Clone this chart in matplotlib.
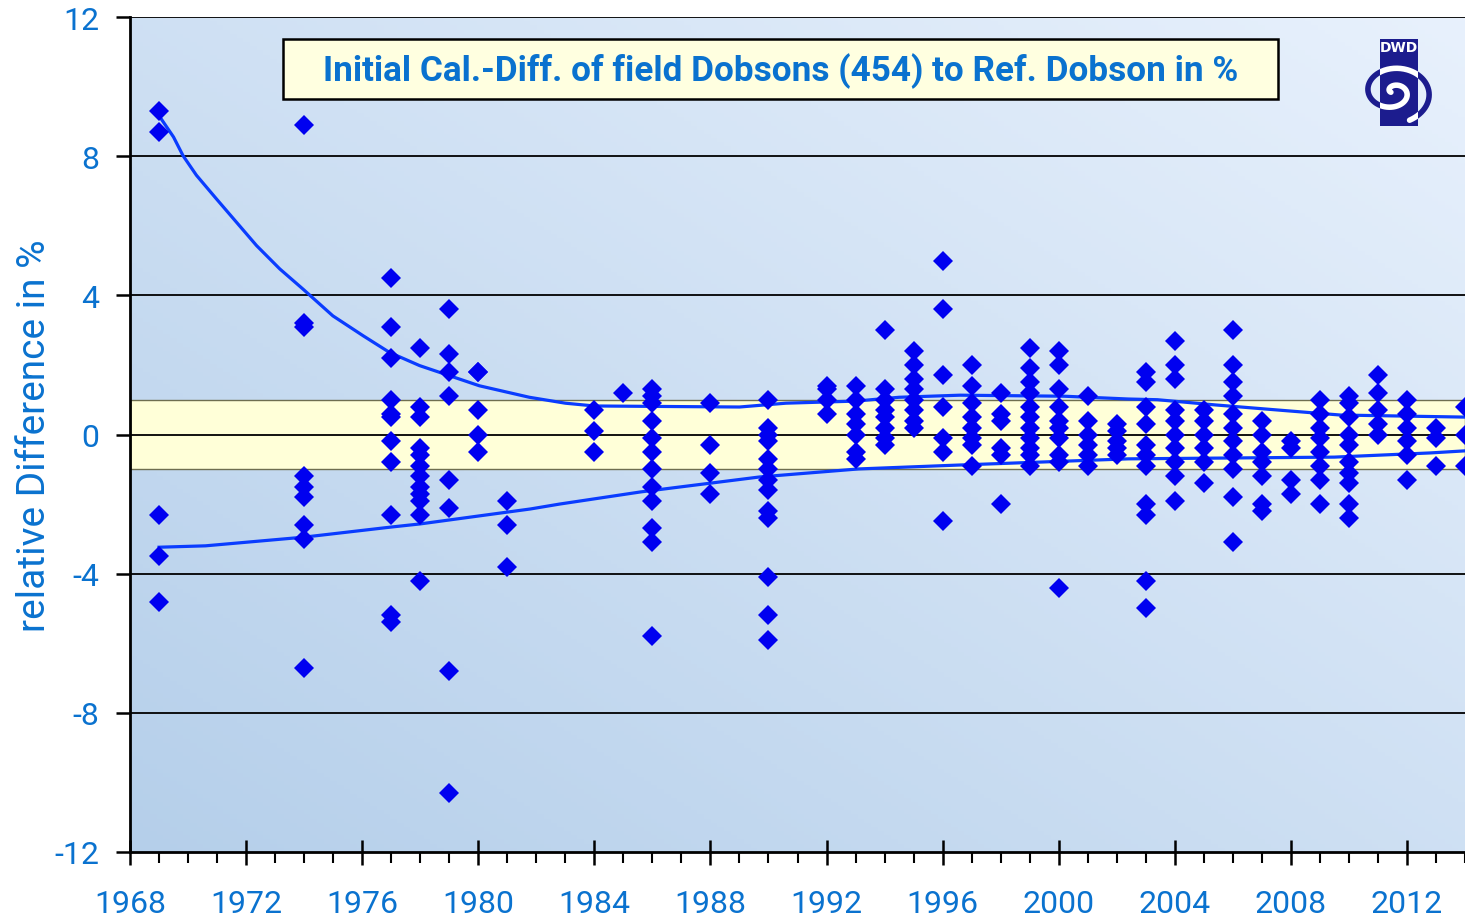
import numpy as np
import matplotlib
matplotlib.use("Agg")
from matplotlib import pyplot as plt
from matplotlib.patches import Rectangle

plt.rcParams["axes.unicode_minus"] = False

# calibration differences per campaign year (in %)
years = [1969, 1974, 1977, 1978, 1979, 1980, 1981, 1984, 1985, 1986, 1988, 1990,
         1992, 1993, 1994, 1995, 1996, 1997, 1998, 1999, 2000, 2001, 2002, 2003,
         2004, 2005, 2006, 2007, 2008, 2009, 2010, 2011, 2012, 2013, 2014]
diffs = [
    [9.3, 8.7, -2.3, -3.5, -4.8],
    [8.9, 3.2, 3.1, -1.2, -1.5, -1.8, -2.6, -3.0, -6.7],
    [4.5, 3.1, 2.2, 1.0, 0.6, 0.5, -0.2, -0.8, -2.3, -5.2, -5.4],
    [2.5, 0.8, 0.5, -0.4, -0.6, -0.9, -1.2, -1.5, -1.7, -1.9, -2.3, -4.2],
    [3.6, 2.3, 1.8, 1.1, -1.3, -2.1, -6.8, -10.3],
    [1.8, 1.8, 0.7, 0.0, -0.5],
    [-1.9, -2.6, -3.8],
    [0.7, 0.1, -0.5],
    [1.2],
    [1.3, 1.1, 0.9, 0.4, -0.1, -0.5, -1.0, -1.5, -1.9, -2.7, -3.1, -5.8],
    [0.9, -0.3, -1.1, -1.7],
    [1.0, 0.2, 0.0, -0.2, -0.7, -1.0, -1.3, -1.6, -2.2, -2.4, -4.1, -5.2, -5.9],
    [1.4, 1.3, 1.0, 0.6],
    [1.4, 1.0, 0.6, 0.3, 0.0, -0.5, -0.7],
    [3.0, 1.3, 1.0, 0.7, 0.5, 0.2, -0.1, -0.3],
    [2.4, 2.0, 1.6, 1.3, 1.0, 0.7, 0.4, 0.2],
    [5.0, 3.6, 1.7, 0.8, -0.1, -0.5, -2.5],
    [2.0, 1.4, 0.9, 0.5, 0.2, -0.1, -0.3, -0.9],
    [1.2, 0.6, 0.4, -0.4, -0.6, -2.0],
    [2.5, 1.9, 1.5, 1.2, 0.8, 0.5, 0.2, -0.1, -0.4, -0.6, -0.9],
    [2.4, 2.0, 1.3, 0.8, 0.4, 0.2, -0.1, -0.6, -0.8, -4.4],
    [1.1, 0.4, 0.0, -0.3, -0.6, -0.9],
    [0.3, 0.1, -0.2, -0.4, -0.6],
    [1.8, 1.5, 0.8, 0.3, -0.3, -0.6, -0.9, -2.0, -2.3, -4.2, -5.0],
    [2.7, 2.0, 1.6, 0.7, 0.4, 0.0, -0.4, -0.8, -1.2, -1.9],
    [0.7, 0.4, 0.0, -0.4, -0.8, -1.4],
    [3.0, 2.0, 1.5, 1.1, 0.6, 0.2, -0.2, -0.6, -1.0, -1.8, -3.1],
    [0.4, 0.0, -0.5, -0.8, -1.2, -2.0, -2.2],
    [-0.2, -0.4, -1.3, -1.7],
    [1.0, 0.6, 0.2, -0.1, -0.5, -0.9, -1.3, -2.0],
    [1.1, 0.9, 0.5, 0.0, -0.3, -0.8, -1.1, -1.4, -2.0, -2.4],
    [1.7, 1.2, 0.7, 0.3, 0.0],
    [1.0, 0.6, 0.2, -0.2, -0.6, -1.3],
    [0.2, -0.1, -0.9],
    [0.8, 0.0, -0.9],
]

# envelope curves
upper_x = [1968.97, 1969.5, 1969.83, 1970.29, 1970.98, 1971.67, 1972.36, 1973.16,
           1973.96, 1974.99, 1976.03, 1976.94, 1977.98, 1979.01, 1980.04, 1981.76,
           1983.0, 1984.0, 1989.0, 1990.6, 1993.0, 1994.5, 1996.6, 2000.2, 2002.4,
           2003.4, 2005.4, 2007.9, 2009.7, 2014.0]
upper_y = [9.2, 8.55, 8.01, 7.45, 6.77, 6.10, 5.43, 4.76, 4.18, 3.41, 2.84, 2.36,
           1.98, 1.69, 1.40, 1.07, 0.9, 0.82, 0.79, 0.9, 0.96, 1.07, 1.13, 1.1,
           1.02, 1.0, 0.85, 0.68, 0.56, 0.5]
lower_x = [1969.0, 1970.6, 1974.0, 1977.0, 1978.0, 1981.8, 1982.8, 1985.6, 1989.7,
           1993.1, 1996.5, 2002.4, 2009.5, 2012.8, 2014.0]
lower_y = [-3.24, -3.2, -2.95, -2.66, -2.57, -2.14, -2.0, -1.65, -1.22, -0.99,
           -0.88, -0.7, -0.65, -0.53, -0.47]

title = "Initial Cal.-Diff. of field Dobsons (454) to Ref. Dobson in %"
txt_blue = "#0A72CF"

W, H = 1465, 920
fig = plt.figure(figsize=(W / 100, H / 100), dpi=100)
fig.patch.set_facecolor("white")
ax = fig.add_axes([130 / W, 1 - 853 / H, (W - 130) / W, (853 - 18) / H])

# diagonal background gradient
gx, gy = np.meshgrid(np.linspace(0, 1, 200), np.linspace(0, 1, 200))
g = (gx + gy) / 2
c0 = np.array([0.71, 0.812, 0.918])
c1 = np.array([0.910, 0.945, 0.990])
img = c0 + (c1 - c0) * g[..., None]
ax.imshow(img, extent=[0, 1, 0, 1], transform=ax.transAxes, origin="lower",
          aspect="auto", zorder=0)

ax.axhspan(-1, 1, facecolor="#FFFFD8", edgecolor="#6E6E50", lw=1.0, zorder=1)
for yv in [-8, -4, 0, 4, 8, 12]:
    ax.axhline(yv, color="black", lw=1.3, zorder=2)

xs = [yr for yr, vals in zip(years, diffs) for v in vals]
ys = [v for vals in diffs for v in vals]
ax.plot(xs, ys, "D", color="#0000F0", markersize=9.8, markeredgewidth=0, zorder=4)

ax.plot(upper_x, upper_y, color="#0A3CFF", lw=2.3, zorder=3)
ax.plot(lower_x, lower_y, color="#0A3CFF", lw=2.3, zorder=3)

ax.set_xlim(1968, 2014)
ax.set_ylim(-12, 12)
ax.set_xticks(np.arange(1968, 2013, 4))
ax.set_xticks(np.arange(1968, 2015, 1), minor=True)
ax.set_yticks(np.arange(-12, 13, 4))
for s in ["top", "right"]:
    ax.spines[s].set_visible(False)
for s in ["left", "bottom"]:
    ax.spines[s].set_linewidth(2.0)
ax.tick_params(axis="x", which="major", direction="inout", length=18, width=1.8,
               colors="black", labelcolor=txt_blue, labelsize=23, pad=18)
ax.tick_params(axis="x", which="minor", direction="out", length=8, width=1.5)
ax.tick_params(axis="y", which="major", direction="out", length=10, width=1.8,
               colors="black", labelcolor=txt_blue, labelsize=23, pad=12)
for lab in ax.get_xticklabels() + ax.get_yticklabels():
    lab.set_fontfamily("Roboto")
ax.set_ylabel("relative Difference in %", color=txt_blue, fontsize=28,
              family="Roboto")
ax.yaxis.set_label_coords(-0.058, 0.5)

# title box
fig.patches.append(Rectangle((283 / W, 1 - 100 / H), 995 / W, 60 / H,
                             transform=fig.transFigure, facecolor="#FFFFE0",
                             edgecolor="black", lw=1.8, zorder=5))
fig.text(781 / W, 1 - 71 / H, title, ha="center", va="center",
         fontsize=25.3, fontweight="bold", color=txt_blue, family="Roboto",
         zorder=6)

# DWD logo
lax = fig.add_axes([1345 / W, 1 - 132 / H, 95 / W, 100 / H])
lax.set_xlim(1345, 1440)
lax.set_ylim(132, 32)
lax.axis("off")
navy = "#1C1C8E"
rect = Rectangle((1380, 40), 38, 87, facecolor=navy, edgecolor="none")
lax.add_patch(rect)
lax.text(1399, 48, "DWD", color="white", fontsize=10, fontweight="bold",
         ha="center", va="center", family="DejaVu Sans")
t = np.linspace(0.6, 3.6 * np.pi, 400)
r = t / (3.6 * np.pi)
sx = 1393 + 40 * r * np.cos(t + 2.4)
sy = 93 + 31 * r * np.sin(t + 2.4)
lax.plot(sx, sy, color=navy, lw=4, solid_capstyle="round")
sp = lax.plot(sx, sy, color="white", lw=4, solid_capstyle="round")[0]
sp.set_clip_path(rect)

fig.savefig("out.png", dpi=100)
